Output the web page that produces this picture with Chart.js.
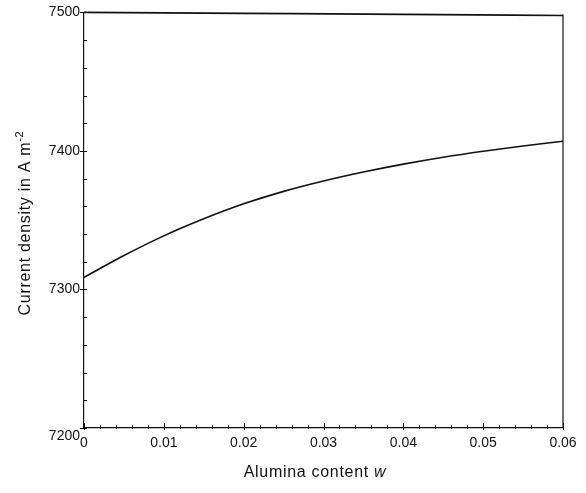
<!DOCTYPE html>
<html>
<head>
<meta charset="utf-8">
<title>Current density vs alumina content</title>
<script src="https://cdn.jsdelivr.net/npm/chart.js@4.4.1/dist/chart.umd.min.js"></script>
<style>
  html, body { margin: 0; padding: 0; background: #fff; }
  #wrap { width: 586px; height: 493px; }
</style>
</head>
<body>
<div id="wrap"><canvas id="c" width="586" height="493"></canvas></div>
<script>
// Alumina content (mass fraction) and current density (A m^-2)
const wLower = [0, 0.005, 0.01, 0.015, 0.02, 0.025, 0.03, 0.035, 0.04, 0.045, 0.05, 0.055, 0.06];
const jLower = [7308.7, 7324.5, 7338.7, 7351, 7361.8, 7370.8, 7378.3, 7384.8, 7390.5, 7395.5, 7399.8, 7403.6, 7407];

const wUpper = [0, 0.02, 0.04, 0.06];
const jUpper = [7500, 7499.3, 7498.6, 7497.8];

// Axis tick labels
const xTickLabels = ['0', '0.01', '0.02', '0.03', '0.04', '0.05', '0.06'];
const yTickLabels = ['7200', '7300', '7400', '7500'];

const FONT = '"Liberation Sans", Arial, sans-serif';
const INK = '#111';

function toPoints(xs, ys) { return xs.map((x, i) => ({ x: x, y: ys[i] })); }

// Tick marks crossing the axis lines (major and minor)
const tickMarks = {
  id: 'tickMarks',
  afterDraw(chart) {
    const ctx = chart.ctx;
    const xs = chart.scales.x, ys = chart.scales.y;
    const ca = chart.chartArea;
    ctx.save();
    ctx.strokeStyle = INK;
    ctx.lineWidth = 1;
    ys.ticks.forEach(t => {
      const p = Math.round(ys.getPixelForValue(t.value)) + 0.5;
      const major = Math.abs(t.value % 100) < 1e-6;
      ctx.beginPath();
      ctx.moveTo(ca.left - (major ? 4 : 1), p);
      ctx.lineTo(ca.left + 3, p);
      ctx.stroke();
    });
    xs.ticks.forEach(t => {
      const p = Math.round(xs.getPixelForValue(t.value)) + 0.5;
      const k = t.value * 100;
      const major = Math.abs(k - Math.round(k)) < 1e-6;
      ctx.beginPath();
      ctx.moveTo(p, ca.bottom + (major ? 2 : 1));
      ctx.lineTo(p, ca.bottom - (major ? 5 : 3));
      ctx.stroke();
    });
    // right-hand frame edge
    ctx.lineWidth = 1.2;
    ctx.beginPath();
    ctx.moveTo(ca.right, ca.top + 2);
    ctx.lineTo(ca.right, ca.bottom);
    ctx.stroke();
    ctx.restore();
  }
};

// Axis titles with italic symbol and superscript unit
const axisTitles = {
  id: 'axisTitles',
  afterDraw(chart) {
    const ctx = chart.ctx;
    ctx.save();
    ctx.fillStyle = INK;
    ctx.textBaseline = 'alphabetic';
    ctx.textAlign = 'left';
    if ('letterSpacing' in ctx) ctx.letterSpacing = '0.7px';

    // x title
    const a = 'Alumina content ', b = 'w';
    ctx.font = '16px ' + FONT;
    const wa = ctx.measureText(a).width;
    ctx.font = 'italic 16px ' + FONT;
    const wb = ctx.measureText(b).width;
    const x0 = 315 - (wa + wb) / 2;
    ctx.font = '16px ' + FONT;
    ctx.fillText(a, x0, 477);
    ctx.font = 'italic 16px ' + FONT;
    ctx.fillText(b, x0 + wa, 477);

    // y title
    const m = 'Current density in A m', s = '-2';
    ctx.font = '16px ' + FONT;
    const wm = ctx.measureText(m).width;
    ctx.font = '11px ' + FONT;
    const ws = ctx.measureText(s).width;
    ctx.translate(30, 223);
    ctx.rotate(-Math.PI / 2);
    const y0 = -(wm + ws) / 2;
    ctx.font = '16px ' + FONT;
    ctx.fillText(m, y0, 0);
    ctx.font = '11px ' + FONT;
    ctx.fillText(s, y0 + wm, -7);
    ctx.restore();
  }
};

const lineStyle = {
  borderColor: INK,
  borderWidth: 1.6,
  pointRadius: 0,
  fill: false,
  cubicInterpolationMode: 'monotone',
  clip: false
};

new Chart(document.getElementById('c'), {
  type: 'line',
  data: {
    datasets: [
      Object.assign({ label: 'upper', data: toPoints(wUpper, jUpper) }, lineStyle),
      Object.assign({ label: 'lower', data: toPoints(wLower, jLower) }, lineStyle)
    ]
  },
  options: {
    responsive: false,
    animation: false,
    events: [],
    layout: { padding: { left: 0, right: 23, top: 11, bottom: 0 } },
    plugins: { legend: { display: false }, tooltip: { enabled: false } },
    scales: {
      x: {
        type: 'linear',
        min: 0, max: 0.06,
        grid: { display: false, drawTicks: false },
        border: { display: true, color: INK, width: 1.2 },
        ticks: {
          stepSize: 0.002,
          autoSkip: false,
          maxRotation: 0,
          padding: 7,
          color: INK,
          font: { family: FONT, size: 14 },
          callback: (v) => {
            const k = v * 100;
            if (Math.abs(k - Math.round(k)) > 1e-6) return '';
            return xTickLabels[Math.round(k)];
          }
        },
        afterFit: (s) => { s.height = 493 - 428; }
      },
      y: {
        min: 7200, max: 7500,
        grid: { display: false, drawTicks: false },
        border: { display: true, color: INK, width: 1.2 },
        ticks: {
          stepSize: 20,
          autoSkip: false,
          padding: 4,
          color: INK,
          font: { family: FONT, size: 14 },
          callback: (v) => {
            if (Math.abs(v % 100) > 1e-6) return '';
            const lab = yTickLabels[Math.round((v - 7200) / 100)];
            // bottom label sits just below the corner
            return v === 7200 ? ['', lab] : lab;
          }
        },
        afterFit: (s) => { s.width = 84; }
      }
    }
  },
  plugins: [tickMarks, axisTitles]
});
</script>
</body>
</html>
